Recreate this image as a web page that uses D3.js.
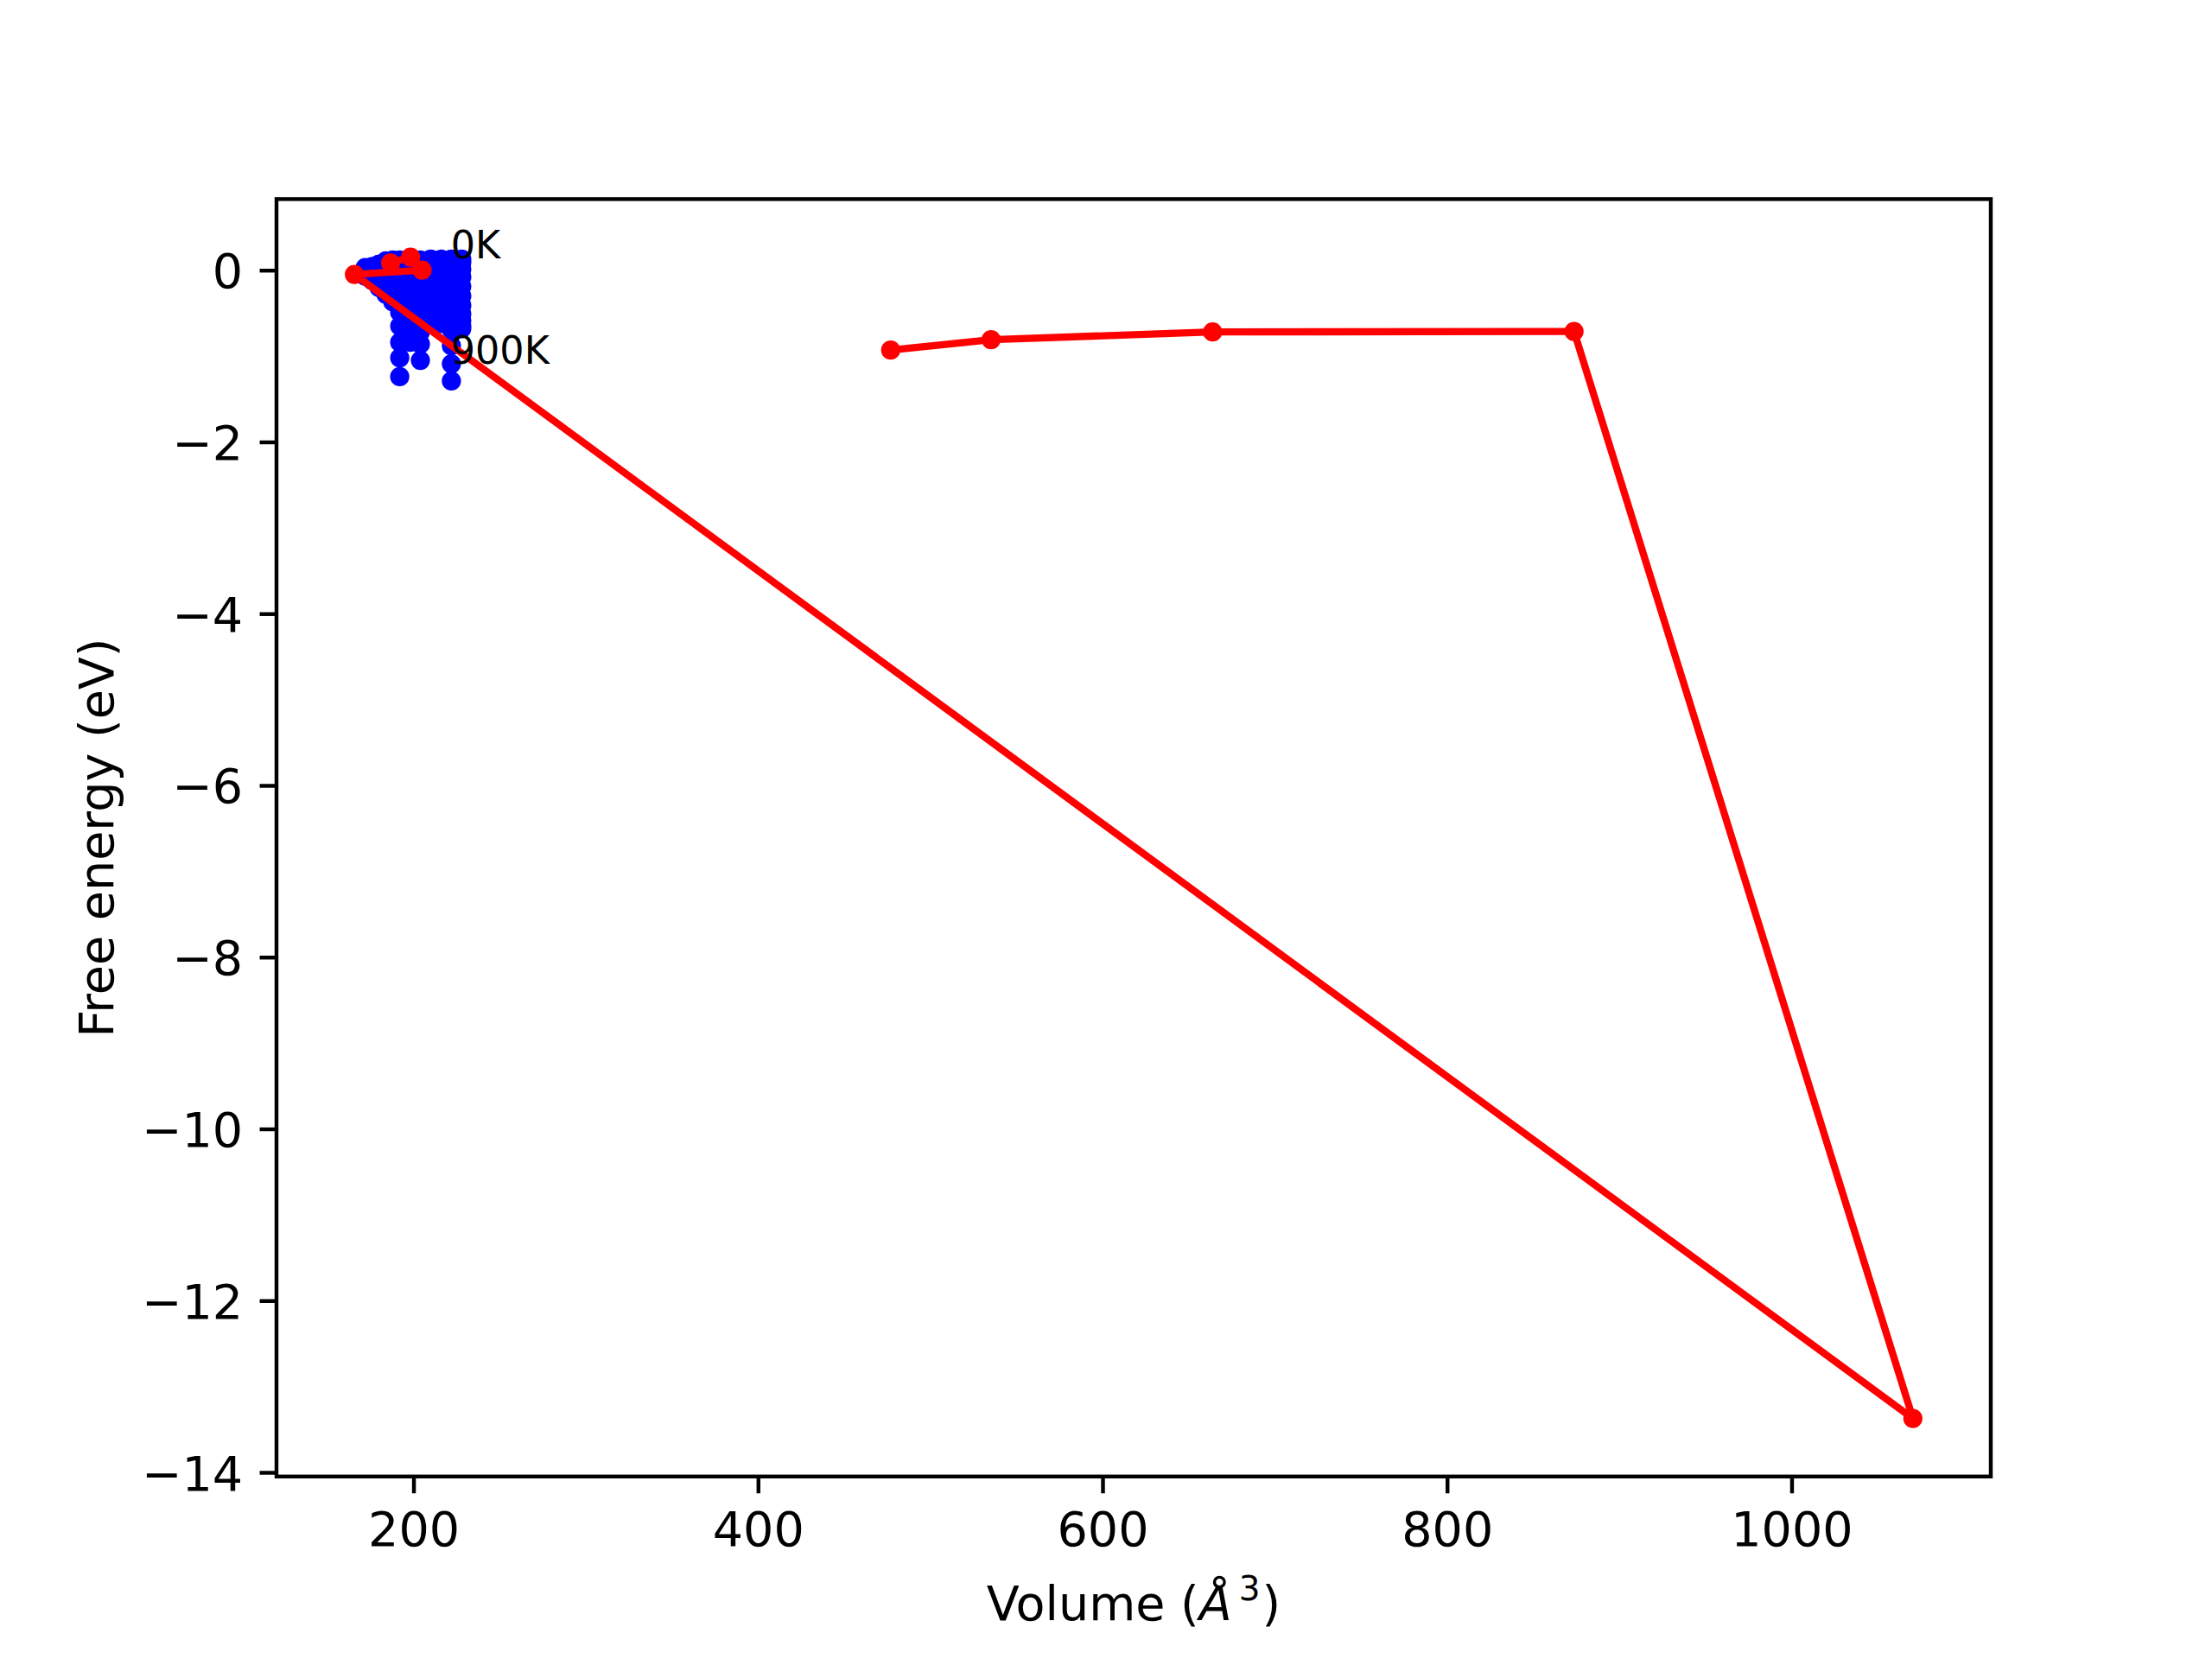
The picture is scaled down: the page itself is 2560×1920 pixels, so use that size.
<!DOCTYPE html>
<html>
<head>
<meta charset="utf-8">
<script src="https://cdn.jsdelivr.net/npm/d3@7"></script>
<style>
  html, body { margin: 0; padding: 0; background: #ffffff; }
  svg { display: block; }
  text { font-family: "DejaVu Sans", sans-serif; }
</style>
</head>
<body>
<svg id="chart" width="2560" height="1920"></svg>
<script>
// ---------------- data ----------------
const temperatures = [0, 100, 200, 300, 400, 500, 600, 700, 800, 900, 1000];
const volumes = [172, 176, 180, 184, 188, 192, 198, 204, 210, 216, 222, 228];
// free energy (eV) for each volume, one entry per temperature
const energyByVolume = [
  [0.03, 0.02, 0.01, 0.00, -0.01, -0.02, -0.03, -0.04, -0.05, -0.06, -0.07],
  [0.04, 0.04, 0.03, 0.01, -0.01, -0.03, -0.05, -0.07, -0.09, -0.11, -0.12],
  [0.07, 0.07, 0.05, 0.02, -0.01, -0.05, -0.09, -0.12, -0.15, -0.18, -0.20],
  [0.11, 0.10, 0.07, 0.03, -0.02, -0.07, -0.12, -0.17, -0.21, -0.25, -0.28],
  [0.12, 0.11, 0.07, 0.02, -0.04, -0.10, -0.16, -0.22, -0.28, -0.33, -0.37],
  [0.12, 0.10, 0.04, -0.04, -0.16, -0.32, -0.49, -0.65, -0.84, -1.02, -1.24],
  [0.12, 0.10, 0.04, -0.04, -0.14, -0.26, -0.39, -0.52, -0.64, -0.75, -0.84],
  [0.12, 0.10, 0.04, -0.05, -0.17, -0.31, -0.45, -0.59, -0.72, -0.86, -1.05],
  [0.13, 0.10, 0.03, -0.06, -0.16, -0.26, -0.35, -0.43, -0.50, -0.56, -0.60],
  [0.13, 0.10, 0.02, -0.07, -0.17, -0.27, -0.36, -0.44, -0.51, -0.57, -0.62],
  [0.13, 0.09, 0.02, -0.08, -0.21, -0.36, -0.52, -0.69, -0.88, -1.09, -1.29],
  [0.13, 0.09, 0.01, -0.08, -0.19, -0.30, -0.41, -0.51, -0.59, -0.65, -0.68]
];
// red line: equilibrium points
const minVolumes  = [477.0, 535.3, 663.9, 873.7, 1070.4, 165.7, 205.0, 198.3, 186.7];
const minEnergies = [-0.930, -0.809, -0.719, -0.713, -13.372, -0.049, 0.001, 0.152, 0.085];
// annotations
const labelTexts    = ["0K", "900K"];
const labelVolumes  = [221.7, 221.7];
const labelEnergies = [0.136, -1.087];
// ticks
const xTicks = [200, 400, 600, 800, 1000];
const yTicks = [0, -2, -4, -6, -8, -10, -12, -14];

(function () {
  // ---------------- layout ----------------
  const axL = 320, axR = 2304, axT = 230.4, axB = 1708.8;
  const PT = 400 / 72; // px per point

  const svg = d3.select("#chart");

  // data extents with 5% margins (matplotlib style)
  const bluePts = [];
  volumes.forEach((v, i) => energyByVolume[i].forEach((e, j) => bluePts.push({v: v, e: e, t: temperatures[j]})));
  const allX = bluePts.map(d => d.v).concat(minVolumes);
  const allY = bluePts.map(d => d.e).concat(minEnergies);
  const [x0, x1] = d3.extent(allX);
  const [y0, y1] = d3.extent(allY);
  const mx = (x1 - x0) * 0.05, my = (y1 - y0) * 0.05;

  const x = d3.scaleLinear().domain([x0 - mx, x1 + mx]).range([axL, axR]);
  const y = d3.scaleLinear().domain([y0 - my, y1 + my]).range([axB, axT]);

  svg.append("defs").append("clipPath").attr("id", "clip")
    .append("rect").attr("x", axL).attr("y", axT)
    .attr("width", axR - axL).attr("height", axB - axT);

  const plot = svg.append("g").attr("clip-path", "url(#clip)");

  const rFill = 1.5 * PT;   // '.' marker: 3pt diameter
  const edgeW = 1.0 * PT;   // 1pt edge

  // blue points
  plot.append("g").selectAll("circle").data(bluePts).join("circle")
    .attr("cx", d => x(d.v)).attr("cy", d => y(d.e)).attr("r", rFill)
    .attr("fill", "#0000ff").attr("stroke", "#0000ff").attr("stroke-width", edgeW);

  // red line
  const redData = minVolumes.map((v, i) => ({v: v, e: minEnergies[i]}));
  plot.append("path").datum(redData)
    .attr("d", d3.line().x(d => x(d.v)).y(d => y(d.e)))
    .attr("fill", "none").attr("stroke", "#ff0000")
    .attr("stroke-width", 1.5 * PT).attr("stroke-linejoin", "round").attr("stroke-linecap", "square");
  plot.append("g").selectAll("circle").data(redData).join("circle")
    .attr("cx", d => x(d.v)).attr("cy", d => y(d.e)).attr("r", rFill)
    .attr("fill", "#ff0000").attr("stroke", "#ff0000").attr("stroke-width", edgeW);

  // annotations
  svg.append("g").selectAll("text").data(labelTexts).join("text")
    .attr("x", (d, i) => x(labelVolumes[i]))
    .attr("y", (d, i) => y(labelEnergies[i]))
    .attr("font-size", 8 * PT).attr("fill", "#000")
    .text(d => d);

  // axes
  const fs = 10 * PT;
  const tickLen = 3.5 * PT;
  const xAxis = d3.axisBottom(x).tickValues(xTicks).tickFormat(d3.format("d"))
    .tickSizeInner(tickLen).tickSizeOuter(0).tickPadding(3.5 * PT);
  const yAxis = d3.axisLeft(y).tickValues(yTicks).tickFormat(d3.format("d"))
    .tickSizeInner(tickLen).tickSizeOuter(0).tickPadding(3.5 * PT);

  const gx = svg.append("g").attr("transform", `translate(0,${axB})`).call(xAxis);
  const gy = svg.append("g").attr("transform", `translate(${axL},0)`).call(yAxis);
  [gx, gy].forEach(g => {
    g.select(".domain").remove();
    g.selectAll(".tick line").attr("stroke", "#000").attr("stroke-width", 0.8 * PT);
    g.selectAll(".tick text").attr("font-size", fs).attr("fill", "#000")
      .attr("font-family", "DejaVu Sans");
  });
  gx.selectAll(".tick text").attr("dy", "0.74em");
  gy.selectAll(".tick text").attr("dy", "0.36em");

  // spines
  svg.append("rect").attr("x", axL).attr("y", axT)
    .attr("width", axR - axL).attr("height", axB - axT)
    .attr("fill", "none").attr("stroke", "#000").attr("stroke-width", 0.8 * PT)
    .attr("stroke-linejoin", "miter");

  // axis labels
  const xl = svg.append("text").attr("x", (axL + axR) / 2).attr("y", 1875)
    .attr("text-anchor", "middle").attr("font-size", fs).attr("fill", "#000");
  xl.append("tspan").text("Volume (");
  xl.append("tspan").attr("font-style", "italic").text("Å");
  xl.append("tspan").attr("font-size", fs * 0.7).attr("dx", 8).attr("dy", -23).text("3");
  xl.append("tspan").attr("dy", 23).attr("dx", 2).text(")");

  svg.append("text")
    .attr("transform", `translate(131,${(axT + axB) / 2}) rotate(-90)`)
    .attr("text-anchor", "middle").attr("font-size", fs).attr("fill", "#000")
    .text("Free energy (eV)");
})();
</script>
</body>
</html>
